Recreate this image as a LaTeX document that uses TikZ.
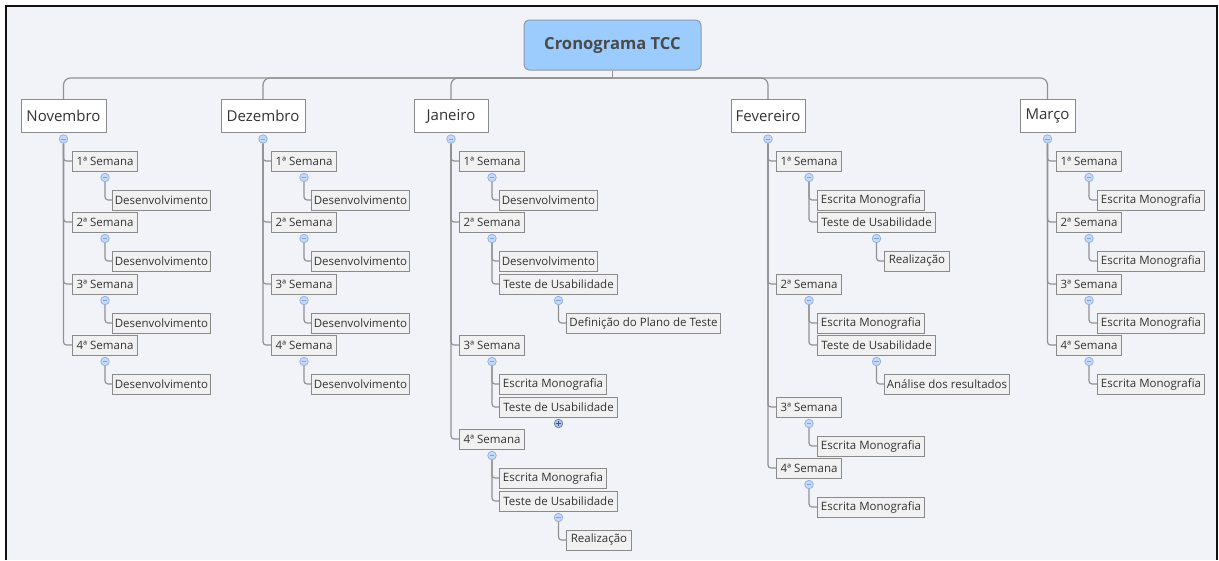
\documentclass[tikz,border=0pt]{standalone}
\usepackage{fontspec}
\setmainfont{Open Sans}
\usetikzlibrary{calc}

\definecolor{bg}{HTML}{F2F3F8}
\definecolor{framec}{HTML}{111111}
\definecolor{wire}{HTML}{929292}
\definecolor{boxline}{HTML}{8A8A8A}
\definecolor{boxfill}{HTML}{F1F1F1}
\definecolor{txt}{HTML}{333333}
\definecolor{roottxt}{HTML}{4A4A4A}
\definecolor{rootfill}{HTML}{9CCBFD}
\definecolor{rootline}{HTML}{8E99A8}
\definecolor{knobfill}{HTML}{C6D9F6}
\definecolor{knobline}{HTML}{92B3E6}
\definecolor{knobmark}{HTML}{7FA3DB}
\definecolor{plusfill}{HTML}{B3C6E3}
\definecolor{plusline}{HTML}{6F88B4}
\definecolor{plusmark}{HTML}{3B5686}

\tikzset{
  conn/.style={draw=wire, line width=1.2pt, rounded corners=3pt},
  bus/.style={draw=wire, line width=1.2pt, rounded corners=7pt},
  rootbox/.style={draw=rootline, fill=rootfill, rounded corners=5pt,
    minimum width=177, minimum height=50, inner sep=0pt, line width=1pt,
    font=\fontsize{16.6}{19}\selectfont\bfseries, text=roottxt},
  month/.style={draw=boxline, fill=white, minimum height=33, inner sep=0pt,
    line width=1pt, font=\fontsize{15}{17}\selectfont, text=txt},
  topic/.style={draw=boxline, fill=boxfill, minimum height=20, inner sep=0pt,
    line width=1pt, font=\fontsize{11.5}{13}\selectfont, text=txt, anchor=west},
  week/.style={topic, minimum width=65},
  dev/.style={topic, minimum width=98},
  esc/.style={topic, minimum width=107},
  tst/.style={topic, minimum width=118},
  knob/.style={circle, draw=knobline, fill=knobfill, minimum size=8.5pt,
    inner sep=0pt, line width=0.8pt,
    path picture={\draw[knobmark, line width=0.9pt]
      ($(path picture bounding box.center)+(-2.3pt,0pt)$) --
      ($(path picture bounding box.center)+(2.3pt,0pt)$);}},
  knobplus/.style={circle, draw=plusline, fill=plusfill, minimum size=8.5pt,
    inner sep=0pt, line width=0.8pt,
    path picture={\draw[plusmark, line width=0.9pt]
      ($(path picture bounding box.center)+(-2.3pt,0pt)$) --
      ($(path picture bounding box.center)+(2.3pt,0pt)$)
      ($(path picture bounding box.center)+(0pt,-2.3pt)$) --
      ($(path picture bounding box.center)+(0pt,2.3pt)$);}},
}

% collapse marker below a node: \foldmark[style]{name}{parent}
\newcommand\foldmark[3][knob]{\node[#1] (#2) at ($(#3.south)+(0,6)$) {};}

\begin{document}
\begin{tikzpicture}[x=1pt, y=-1pt]
\useasboundingbox (0,0) rectangle (1219,560);
\fill[white] (0,0) rectangle (1219,560);
\fill[bg] (7,6) rectangle (1217,560);
\draw[framec, line width=2pt] (6.3,560) -- (6.3,5.5) -- (1217.3,5.5) -- (1217.3,560);

% root and months
\node[rootbox] (root) at (612.5,45) {Cronograma TCC};
\node[month, minimum width=85] (nov) at (63.5,116) {Novembro};
\node[month, minimum width=84] (dez) at (263,116) {Dezembro};
\node[month, minimum width=74] (jan) at (451,116) {Janeiro};
\node[month, minimum width=74] (fev) at (768,116) {Fevereiro};
\node[month, minimum width=55] (mar) at (1047.5,116) {Março};

\coordinate (hub) at (612.5,78);
\draw[conn] (root.south) -- (hub);
\foreach \m in {nov,dez,jan,fev,mar}
  \draw[bus] (hub) -| (\m.north);

% ---------- Novembro ----------
\foldmark{novc}{nov}
\node[week] (nov1) at (72,161) {1ª Semana};
\node[week] (nov2) at (72,222) {2ª Semana};
\node[week] (nov3) at (72,284) {3ª Semana};
\node[week] (nov4) at (72,345) {4ª Semana};
\foreach \w in {1,2,3,4} \draw[conn] (novc.south) |- (nov\w.west);
\node[dev] (nov1a) at (112,200) {Desenvolvimento};
\node[dev] (nov2a) at (112,261) {Desenvolvimento};
\node[dev] (nov3a) at (112,323) {Desenvolvimento};
\node[dev] (nov4a) at (112,384) {Desenvolvimento};
\foreach \w in {1,2,3,4} {
  \foldmark{nov\w c}{nov\w}
  \draw[conn] (nov\w c.south) |- (nov\w a.west);
}

% ---------- Dezembro ----------
\foldmark{dezc}{dez}
\node[week] (dez1) at (271,161) {1ª Semana};
\node[week] (dez2) at (271,222) {2ª Semana};
\node[week] (dez3) at (271,284) {3ª Semana};
\node[week] (dez4) at (271,345) {4ª Semana};
\foreach \w in {1,2,3,4} \draw[conn] (dezc.south) |- (dez\w.west);
\node[dev] (dez1a) at (311,200) {Desenvolvimento};
\node[dev] (dez2a) at (311,261) {Desenvolvimento};
\node[dev] (dez3a) at (311,323) {Desenvolvimento};
\node[dev] (dez4a) at (311,384) {Desenvolvimento};
\foreach \w in {1,2,3,4} {
  \foldmark{dez\w c}{dez\w}
  \draw[conn] (dez\w c.south) |- (dez\w a.west);
}

% ---------- Janeiro ----------
\foldmark{janc}{jan}
\node[week] (jan1) at (459,161) {1ª Semana};
\node[week] (jan2) at (459,222) {2ª Semana};
\node[week] (jan3) at (459,345) {3ª Semana};
\node[week] (jan4) at (459,439) {4ª Semana};
\foreach \w in {1,2,3,4} {
  \draw[conn] (janc.south) |- (jan\w.west);
  \foldmark{jan\w c}{jan\w}
}
\node[dev] (jan1a) at (499,200) {Desenvolvimento};
\draw[conn] (jan1c.south) |- (jan1a.west);

\node[dev] (jan2a) at (499,261) {Desenvolvimento};
\node[tst] (jan2b) at (499,284) {Teste de Usabilidade};
\draw[conn] (jan2c.south) |- (jan2a.west);
\draw[conn] (jan2c.south) |- (jan2b.west);
\foldmark{jan2bc}{jan2b}
\node[topic, minimum width=154] (jan2b1) at (566,323) {Definição do Plano de Teste};
\draw[conn] (jan2bc.south) |- (jan2b1.west);

\node[esc] (jan3a) at (499,384) {Escrita Monografia};
\node[tst] (jan3b) at (499,407) {Teste de Usabilidade};
\draw[conn] (jan3c.south) |- (jan3a.west);
\draw[conn] (jan3c.south) |- (jan3b.west);
\foldmark[knobplus]{jan3bc}{jan3b}

\node[esc] (jan4a) at (499,478) {Escrita Monografia};
\node[tst] (jan4b) at (499,501) {Teste de Usabilidade};
\draw[conn] (jan4c.south) |- (jan4a.west);
\draw[conn] (jan4c.south) |- (jan4b.west);
\foldmark{jan4bc}{jan4b}
\node[topic, minimum width=65] (jan4b1) at (566,540) {Realização};
\draw[conn] (jan4bc.south) |- (jan4b1.west);

% ---------- Fevereiro ----------
\foldmark{fevc}{fev}
\node[week] (fev1) at (776,161) {1ª Semana};
\node[week] (fev2) at (776,284) {2ª Semana};
\node[week] (fev3) at (776,407) {3ª Semana};
\node[week] (fev4) at (776,468) {4ª Semana};
\foreach \w in {1,2,3,4} {
  \draw[conn] (fevc.south) |- (fev\w.west);
  \foldmark{fev\w c}{fev\w}
}
\node[esc] (fev1a) at (817,200) {Escrita Monografia};
\node[tst] (fev1b) at (817,222) {Teste de Usabilidade};
\draw[conn] (fev1c.south) |- (fev1a.west);
\draw[conn] (fev1c.south) |- (fev1b.west);
\foldmark{fev1bc}{fev1b}
\node[topic, minimum width=65] (fev1b1) at (884,261) {Realização};
\draw[conn] (fev1bc.south) |- (fev1b1.west);

\node[esc] (fev2a) at (817,323) {Escrita Monografia};
\node[tst] (fev2b) at (817,345) {Teste de Usabilidade};
\draw[conn] (fev2c.south) |- (fev2a.west);
\draw[conn] (fev2c.south) |- (fev2b.west);
\foldmark{fev2bc}{fev2b}
\node[topic, minimum width=125] (fev2b1) at (884,384) {Análise dos resultados};
\draw[conn] (fev2bc.south) |- (fev2b1.west);

\node[esc] (fev3a) at (817,446) {Escrita Monografia};
\draw[conn] (fev3c.south) |- (fev3a.west);
\node[esc] (fev4a) at (817,507) {Escrita Monografia};
\draw[conn] (fev4c.south) |- (fev4a.west);

% ---------- Março ----------
\foldmark{marc}{mar}
\node[week] (mar1) at (1056,161) {1ª Semana};
\node[week] (mar2) at (1056,222) {2ª Semana};
\node[week] (mar3) at (1056,284) {3ª Semana};
\node[week] (mar4) at (1056,345) {4ª Semana};
\foreach \w in {1,2,3,4} \draw[conn] (marc.south) |- (mar\w.west);
\node[esc] (mar1a) at (1097,200) {Escrita Monografia};
\node[esc] (mar2a) at (1097,261) {Escrita Monografia};
\node[esc] (mar3a) at (1097,323) {Escrita Monografia};
\node[esc] (mar4a) at (1097,384) {Escrita Monografia};
\foreach \w in {1,2,3,4} {
  \foldmark{mar\w c}{mar\w}
  \draw[conn] (mar\w c.south) |- (mar\w a.west);
}
\end{tikzpicture}
\end{document}
